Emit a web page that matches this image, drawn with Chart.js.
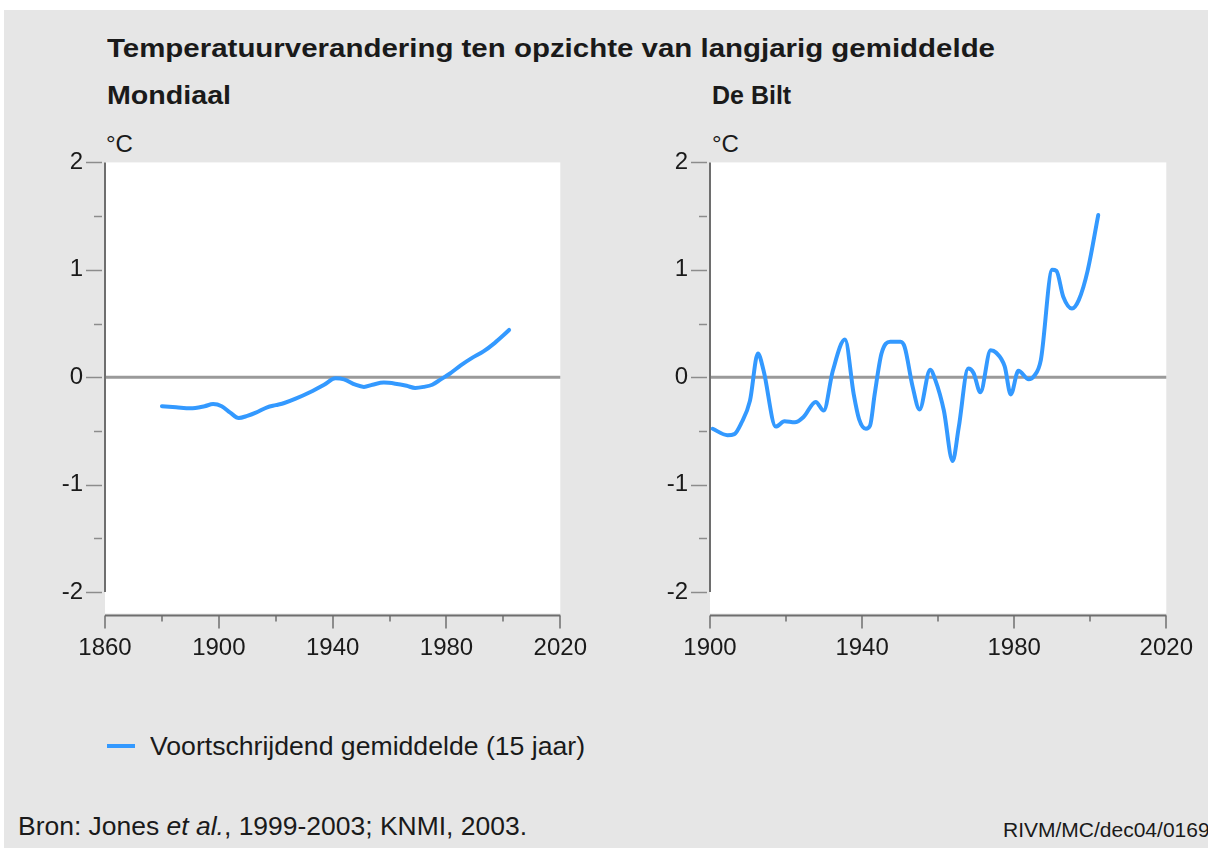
<!DOCTYPE html>
<html>
<head>
<meta charset="utf-8">
<script src="https://cdn.jsdelivr.net/npm/chart.js@4/dist/chart.umd.min.js"></script>
<style>
  html, body { margin:0; padding:0; background:#ffffff; width:1208px; height:848px; overflow:hidden; }
  #bg { position:absolute; left:4px; top:10px; width:1204px; height:838px; background:#e6e6e6; }
  .t { position:absolute; white-space:nowrap; font-family:"Liberation Sans", Arial, sans-serif; color:#1a1a1a; transform-origin:left center; line-height:1; }
  .b { font-weight:bold; }
  canvas { position:absolute; }
</style>
</head>
<body>
<div id="bg"></div>
<div class="t b" id="title" style="left:107px; top:36px; font-size:25px;">Temperatuurverandering ten opzichte van langjarig gemiddelde</div>
<div class="t b" id="sub1" style="left:107px; top:83px; font-size:25px;">Mondiaal</div>
<div class="t b" id="sub2" style="left:712px; top:83px; font-size:25px;">De Bilt</div>
<div class="t" style="left:106px; top:132px; font-size:24px;">°C</div>
<div class="t" style="left:712px; top:132px; font-size:24px;">°C</div>
<canvas id="c1" width="607" height="564" style="left:0px; top:126px;"></canvas>
<canvas id="c2" width="609" height="564" style="left:604px; top:126px;"></canvas>
<div style="position:absolute; left:107px; top:744px; width:28px; height:4px; background:#3399ff;"></div>
<div class="t" id="leg" style="left:150px; top:734px; font-size:25px;">Voortschrijdend gemiddelde (15 jaar)</div>
<div class="t" id="src" style="left:18px; top:814px; font-size:25px;">Bron: Jones <i>et al.</i>, 1999-2003; KNMI, 2003.</div>
<div class="t" style="left:1003px; top:819px; font-size:21px;">RIVM/MC/dec04/0169</div>
<script>
// ---------- data ----------
const yTicks = [-2, -1, 0, 1, 2];
const yMinorTicks = [-1.5, -0.5, 0.5, 1.5];

const worldXTicks = [1860, 1900, 1940, 1980, 2020];
const worldXMinor = [1880, 1920, 1960, 2000];
const worldYears = [1880, 1885, 1890, 1895, 1898, 1901, 1904, 1907, 1910, 1913, 1917, 1920, 1923, 1927, 1932, 1937, 1941, 1944, 1948, 1951, 1954, 1958, 1962, 1966, 1969, 1972, 1975, 1978, 1981, 1985, 1989, 1993, 1997, 2000, 2002];
const worldValues = [-0.27, -0.28, -0.29, -0.27, -0.25, -0.27, -0.33, -0.38, -0.36, -0.33, -0.28, -0.26, -0.24, -0.20, -0.14, -0.07, -0.01, -0.02, -0.07, -0.09, -0.07, -0.05, -0.06, -0.08, -0.10, -0.09, -0.07, -0.02, 0.03, 0.11, 0.18, 0.24, 0.32, 0.39, 0.44];

const biltXTicks = [1900, 1940, 1980, 2020];
const biltXMinor = [1920, 1960, 2000];
const biltYears = [1900.7, 1904.6, 1906.4, 1908.2, 1910.5, 1912.6, 1914.1, 1917.3, 1919.6, 1922.3, 1924.6, 1927.8, 1929.9, 1932.3, 1935.5, 1937.8, 1939.2, 1941, 1942.1, 1943.3, 1945.1, 1947.4, 1950.1, 1951.2, 1953.3, 1955.1, 1957.9, 1959.2, 1961.5, 1963.8, 1965.4, 1967.9, 1969.3, 1971.1, 1973.8, 1975.2, 1977.5, 1979.1, 1981.1, 1983.8, 1985.2, 1987, 1990, 1991.1, 1992.9, 1995.2, 1997, 1999.3, 2002.1];
const biltValues = [-0.48, -0.54, -0.53, -0.43, -0.22, 0.22, 0.06, -0.46, -0.41, -0.42, -0.37, -0.23, -0.31, 0.06, 0.35, -0.16, -0.39, -0.48, -0.45, -0.16, 0.22, 0.33, 0.33, 0.28, -0.09, -0.30, 0.07, -0.02, -0.31, -0.78, -0.47, 0.08, 0.04, -0.14, 0.25, 0.23, 0.10, -0.16, 0.06, -0.02, 0.01, 0.16, 1.00, 0.99, 0.75, 0.64, 0.72, 0.99, 1.51];

// ---------- style ----------
const LINE_COLOR = '#3399ff';
const TICK_FONT = { family: '"Liberation Sans", Arial, sans-serif', size: 24 };

const axesPlugin = {
  id: 'axesPlugin',
  beforeDraw(chart) {
    const { ctx, chartArea: a } = chart;
    ctx.save();
    ctx.fillStyle = '#ffffff';
    ctx.fillRect(a.left, a.top, a.right - a.left, a.bottom - a.top);
    ctx.restore();
  },
  beforeDatasetsDraw(chart) {
    const { ctx, chartArea: a, scales } = chart;
    const ys = scales.y, xs = scales.x;
    const opt = chart.options.plugins.axesPlugin;
    ctx.save();
    // zero line
    const y0 = ys.getPixelForValue(0);
    ctx.strokeStyle = '#9a9a9a'; ctx.lineWidth = 3;
    ctx.beginPath(); ctx.moveTo(a.left, y0); ctx.lineTo(a.right, y0); ctx.stroke();
    // y axis line
    ctx.strokeStyle = '#6e6e6e'; ctx.lineWidth = 2;
    ctx.beginPath(); ctx.moveTo(a.left, ys.getPixelForValue(yTicks[yTicks.length - 1])); ctx.lineTo(a.left, ys.getPixelForValue(yTicks[0])); ctx.stroke();
    // x axis line
    const xb = a.bottom + 2;
    ctx.beginPath(); ctx.moveTo(a.left, xb); ctx.lineTo(a.right, xb); ctx.stroke();
    // y ticks
    ctx.strokeStyle = '#8c8c8c'; ctx.lineWidth = 1.5;
    yTicks.forEach(v => { const p = Math.round(ys.getPixelForValue(v)) + 0.5; ctx.beginPath(); ctx.moveTo(a.left - 19, p); ctx.lineTo(a.left - 3, p); ctx.stroke(); });
    yMinorTicks.forEach(v => { const p = Math.round(ys.getPixelForValue(v)) + 0.5; ctx.beginPath(); ctx.moveTo(a.left - 11, p); ctx.lineTo(a.left - 3, p); ctx.stroke(); });
    // x ticks
    ctx.strokeStyle = '#6e6e6e'; ctx.lineWidth = 1.5;
    opt.major.forEach(v => { const p = Math.round(xs.getPixelForValue(v)); ctx.beginPath(); ctx.moveTo(p, xb); ctx.lineTo(p, xb + 13); ctx.stroke(); });
    opt.minor.forEach(v => { const p = Math.round(xs.getPixelForValue(v)); ctx.beginPath(); ctx.moveTo(p, xb); ctx.lineTo(p, xb + 6); ctx.stroke(); });
    ctx.restore();
  }
};

function makeChart(id, years, values, xTicks, xMinor, yWidth) {
  return new Chart(document.getElementById(id), {
    type: 'line',
    data: {
      datasets: [{
        data: years.map((x, i) => ({ x: x, y: values[i] })),
        borderColor: LINE_COLOR,
        borderWidth: 4,
        pointRadius: 0,
        fill: false,
        cubicInterpolationMode: 'monotone',
        borderCapStyle: 'round',
        borderJoinStyle: 'round'
      }]
    },
    options: {
      responsive: false,
      animation: false,
      layout: { padding: 0 },
      plugins: {
        legend: { display: false },
        tooltip: { enabled: false },
        axesPlugin: { major: xTicks, minor: xMinor }
      },
      scales: {
        x: {
          type: 'linear',
          min: xTicks[0], max: xTicks[xTicks.length - 1],
          grid: { display: false, drawTicks: false },
          border: { display: false },
          ticks: { font: TICK_FONT, color: '#1a1a1a', padding: 20, maxRotation: 0, autoSkip: false, callback: v => String(v) },
          afterBuildTicks: s => { s.ticks = xTicks.map(v => ({ value: v })); },
          afterFit: s => { s.height = 76.5; }
        },
        y: {
          min: -2.2, max: 2,
          grid: { display: false, drawTicks: false },
          border: { display: false },
          ticks: { font: TICK_FONT, color: '#1a1a1a', padding: 22, callback: v => String(v) },
          afterBuildTicks: s => { s.ticks = yTicks.map(v => ({ value: v })); },
          afterFit: s => { s.width = yWidth; }
        }
      }
    },
    plugins: [axesPlugin]
  });
}

// shift a canvas so that its plot area starts at the reference's top-left corner
function place(chart, left, top) {
  const a = chart.chartArea;
  chart.canvas.style.left = Math.round(left - a.left) + 'px';
  chart.canvas.style.top = (top - a.top) + 'px';
}

const ch1 = makeChart('c1', worldYears, worldValues, worldXTicks, worldXMinor, 105);
const ch2 = makeChart('c2', biltYears, biltValues, biltXTicks, biltXMinor, 106);
place(ch1, 105, 162);
place(ch2, 710, 162);

// fit text widths to the reference
function fit(id, w) {
  const el = document.getElementById(id);
  const s = w / el.getBoundingClientRect().width;
  el.style.transform = 'scaleX(' + s + ')';
}
fit('title', 888);
fit('sub1', 124);
fit('leg', 435);
fit('src', 509);
</script>
</body>
</html>
